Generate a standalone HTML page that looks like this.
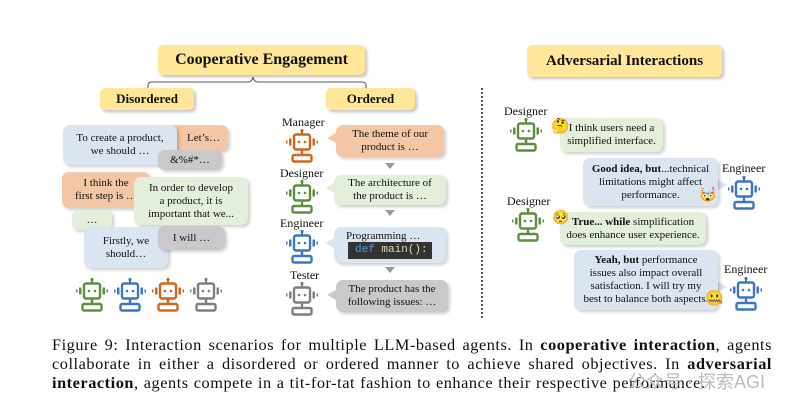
<!DOCTYPE html>
<html><head><meta charset="utf-8"><style>
*{margin:0;padding:0;box-sizing:border-box}
body{width:798px;height:414px;background:#fff;position:relative;overflow:hidden;font-family:"Liberation Serif",serif;color:#111}
.a{position:absolute}
.hd{position:absolute;background:#ffe699;border-radius:5px;font-weight:bold;display:flex;align-items:center;justify-content:center;box-shadow:2px 2px 3px rgba(0,0,0,.25)}
.b{position:absolute;border-radius:7px;font-size:11px;line-height:13px;text-align:center;display:flex;align-items:center;justify-content:center;flex-direction:column;box-shadow:2px 2px 3px rgba(0,0,0,.2)}
.bl{background:#dae5f1}.or{background:#f5c6a6}.gr{background:#e3eedb}.gy{background:#c9c9c9}
.lb{position:absolute;font-size:12px}
svg.r{position:absolute}
.cap{position:absolute;left:52px;width:720px;font-size:16.3px;text-align:justify;text-align-last:justify;white-space:nowrap;letter-spacing:0.55px;word-spacing:0.5px}
.dn{position:absolute;width:0;height:0;border-left:5px solid transparent;border-right:5px solid transparent;border-top:6px solid #999}
.tl{position:absolute;width:0;height:0;border-top:5px solid transparent;border-bottom:5px solid transparent}
.tr{position:absolute;width:0;height:0;border-top:5px solid transparent;border-bottom:5px solid transparent}
</style></head><body>
<svg width="0" height="0" style="position:absolute"><defs>
<g id="rb">
<circle cx="18" cy="2.5" r="1.6" fill="currentColor"/>
<line x1="18" y1="3" x2="18" y2="6" stroke="currentColor" stroke-width="2"/>
<rect x="10" y="6.5" width="16" height="15" rx="2" fill="#fff" fill-opacity=".7" stroke="currentColor" stroke-width="2.4"/>
<circle cx="15" cy="14" r="1.3" fill="currentColor"/><circle cx="21" cy="14" r="1.3" fill="currentColor"/>
<rect x="5" y="10.5" width="2.5" height="7" fill="currentColor"/><rect x="2" y="12.5" width="1.5" height="3" fill="currentColor"/>
<rect x="28.5" y="10.5" width="2.5" height="7" fill="currentColor"/><rect x="32.5" y="12.5" width="1.5" height="3" fill="currentColor"/>
<line x1="18" y1="22" x2="18" y2="27" stroke="currentColor" stroke-width="2.4"/>
<rect x="8.5" y="27" width="19" height="6.5" rx="1.5" fill="#fff" fill-opacity=".7" stroke="currentColor" stroke-width="2.4"/>
</g></defs></svg>

<div class="hd" style="left:158px;top:45px;width:207px;height:30px;font-size:16px">Cooperative Engagement</div>
<svg class="a" style="left:140px;top:76px" width="240" height="14"><path d="M8 13 V9 Q8 6 12 6 H108 Q112 6 113 1 Q114 6 118 6 H222 Q226 6 226 9 V13" fill="none" stroke="#555" stroke-width="1"/></svg>
<div class="hd" style="left:100px;top:88px;width:94px;height:22px;font-size:13px">Disordered</div>
<div class="hd" style="left:326px;top:88px;width:89px;height:22px;font-size:13px">Ordered</div>

<div class="b or" style="left:168px;top:125px;width:60px;height:26px;align-items:flex-end;padding-right:8px">Let’s…</div>
<div class="b bl" style="left:63px;top:125px;width:114px;height:40px">To create a product,<br>we should …</div>
<div class="b gy" style="left:158px;top:150px;width:64px;height:20px">&amp;%#*…</div>
<div class="b or" style="left:62px;top:172px;width:88px;height:36px">I think the<br>first step is …</div>
<div class="b gr" style="left:134px;top:177px;width:114px;height:48px">In order to develop<br>a product, it is<br>important that we...</div>
<div class="b gr" style="left:72px;top:210px;width:40px;height:20px">…</div>
<div class="b bl" style="left:84px;top:227px;width:84px;height:41px">Firstly, we<br>should…</div>
<div class="b gy" style="left:158px;top:226px;width:67px;height:24px">I will …</div>

<svg class="r" style="left:74px;top:277px;color:#5e8f3e" width="36" height="36"><use href="#rb"/></svg>
<svg class="r" style="left:112px;top:277px;color:#3c78c0" width="36" height="36"><use href="#rb"/></svg>
<svg class="r" style="left:150px;top:277px;color:#d0661f" width="36" height="36"><use href="#rb"/></svg>
<svg class="r" style="left:188px;top:277px;color:#7f7f7f" width="36" height="36"><use href="#rb"/></svg>

<div class="lb" style="left:282px;top:115px">Manager</div>
<svg class="r" style="left:284px;top:128px;color:#d0661f" width="36" height="36"><use href="#rb"/></svg>
<div class="tl" style="left:327px;top:133px;border-right:9px solid #f5c6a6"></div>
<div class="b or" style="left:336px;top:125px;width:108px;height:32px">The theme of our<br>product is …</div>
<div class="dn" style="left:385px;top:163px"></div>
<div class="lb" style="left:280px;top:166px">Designer</div>
<svg class="r" style="left:284px;top:179px;color:#5e8f3e" width="36" height="36"><use href="#rb"/></svg>
<div class="tl" style="left:325px;top:183px;border-right:9px solid #e3eedb"></div>
<div class="b gr" style="left:334px;top:175px;width:112px;height:30px">The architecture of<br>the product is …</div>
<div class="dn" style="left:385px;top:210px"></div>
<div class="lb" style="left:280px;top:216px">Engineer</div>
<svg class="r" style="left:284px;top:229px;color:#3c78c0" width="36" height="36"><use href="#rb"/></svg>
<div class="tl" style="left:325px;top:238px;border-right:9px solid #dae5f1"></div>
<div class="b bl" style="left:334px;top:227px;width:112px;height:36px;align-items:flex-start;justify-content:flex-start;padding:3px 0 0 12px">Programming …</div>
<div class="a" style="left:348px;top:242px;width:84px;height:17px;background:#333;font-family:'Liberation Mono',monospace;font-size:11px;line-height:17px;padding-left:7px;color:#dcdcaa"><span style="color:#569cd6">def</span> main():</div>
<div class="dn" style="left:385px;top:267px"></div>
<div class="lb" style="left:290px;top:268px">Tester</div>
<svg class="r" style="left:284px;top:281px;color:#7f7f7f" width="36" height="36"><use href="#rb"/></svg>
<div class="tl" style="left:327px;top:290px;border-right:9px solid #c9c9c9"></div>
<div class="b gy" style="left:336px;top:280px;width:112px;height:32px">The product has the<br>following issues: …</div>

<div class="a" style="left:481px;top:88px;width:0;height:230px;border-left:2px dotted #555"></div>

<div class="hd" style="left:527px;top:45px;width:195px;height:32px;font-size:15px">Adversarial Interactions</div>
<div class="lb" style="left:504px;top:104px">Designer</div>
<svg class="r" style="left:508px;top:117px;color:#5e8f3e" width="36" height="36"><use href="#rb"/></svg>
<div class="b gr" style="left:560px;top:118px;width:103px;height:34px">I think users need a<br>simplified interface.</div>
<div class="a" style="left:551px;top:117px;font-size:15px">🤔</div>
<div class="tr" style="left:718px;top:180px;border-left:9px solid #dae5f1"></div>
<div class="b bl" style="left:583px;top:158px;width:135px;height:48px"><span><b>Good idea, but</b>...technical</span>limitations might affect<br>performance.</div>
<div class="a" style="left:699px;top:187px;font-size:14px">🤯</div>
<div class="lb" style="left:722px;top:161px">Engineer</div>
<svg class="r" style="left:726px;top:175px;color:#3c78c0" width="36" height="36"><use href="#rb"/></svg>
<div class="lb" style="left:507px;top:194px">Designer</div>
<svg class="r" style="left:510px;top:207px;color:#5e8f3e" width="36" height="36"><use href="#rb"/></svg>
<div class="b gr" style="left:560px;top:212px;width:146px;height:33px"><span><b>True... while</b> simplification</span>does enhance user experience.</div>
<div class="a" style="left:552px;top:210px;font-size:14px">🥺</div>
<div class="tr" style="left:718px;top:282px;border-left:9px solid #dae5f1"></div>
<div class="b bl" style="left:574px;top:250px;width:144px;height:60px"><span><b>Yeah, but</b> performance</span>issues also impact overall<br>satisfaction. I will try my<br>best to balance both aspects.</div>
<div class="a" style="left:705px;top:289px;font-size:15px">🤐</div>
<div class="lb" style="left:724px;top:262px">Engineer</div>
<svg class="r" style="left:728px;top:276px;color:#3c78c0" width="36" height="36"><use href="#rb"/></svg>

<div class="cap" style="top:335px">Figure 9: Interaction scenarios for multiple LLM-based agents. In <b>cooperative interaction</b>, agents</div>
<div class="cap" style="top:354px">collaborate in either a disordered or ordered manner to achieve shared objectives. In <b>adversarial</b></div>
<div class="cap" style="top:373px;text-align-last:left"><b>interaction</b>, agents compete in a tit-for-tat fashion to enhance their respective performance.</div>
<div class="a" style="left:628px;top:368px;font-size:18px;color:#bbb;font-family:'Liberation Sans','Noto Sans CJK SC',sans-serif">公众号 · 探索AGI</div>
</body></html>
